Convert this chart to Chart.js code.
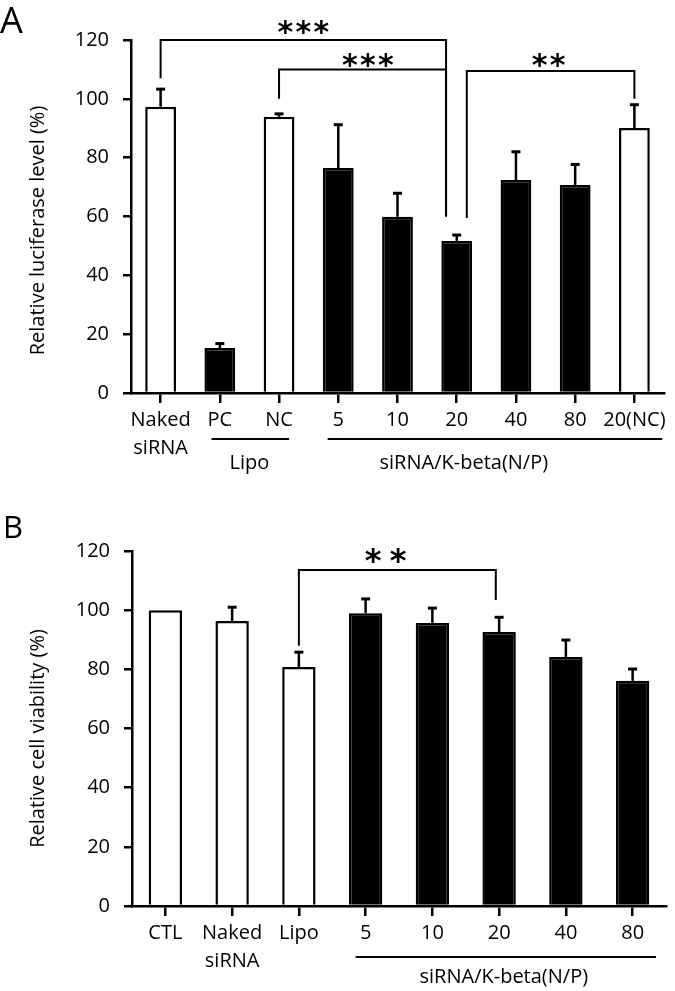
<!DOCTYPE html>
<html>
<head>
<meta charset="utf-8">
<script src="https://cdn.jsdelivr.net/npm/chart.js@4.4.1/dist/chart.umd.min.js"></script>
<style>
  body { margin: 0; background: #fff; }
  .panel { position: absolute; left: 0; width: 675px; }
</style>
</head>
<body>
<div class="panel" style="top:0;height:490px"><canvas id="chartA"></canvas></div>
<div class="panel" style="top:490px;height:501px"><canvas id="chartB"></canvas></div>
<script>
// panel A: luciferase knockdown
const labelsA = [['Naked', 'siRNA'], 'PC', 'NC', '5', '10', '20', '40', '80', '20(NC)'];
const valuesA = [97.3, 15.3, 93.9, 76.5, 59.9, 51.7, 72.4, 70.7, 90.1];
const errorsA = [6, 1.5, 1, 14.7, 8, 2, 9.6, 7, 7.9];
const filledA = [false, true, false, true, true, true, true, true, false];

// panel B: cell viability
const labelsB = ['CTL', ['Naked', 'siRNA'], 'Lipo', '5', '10', '20', '40', '80'];
const valuesB = [100, 96.3, 80.8, 99, 95.7, 92.6, 84.2, 76.1];
const errorsB = [0, 4.7, 5, 4.8, 5, 5, 5.7, 4];
const filledB = [false, false, false, true, true, true, true, true];

const yMin = 0, yMax = 120, yStep = 20;

// significance brackets (category index, value)
const bracketsA = [
  { from: 0, to: 4.82, top: 120, leftEnd: 107, rightEnd: 60, stars: 3, at: 2.41, textY: 125 },
  { from: 2, to: 4.82, top: 110, leftEnd: 100, rightEnd: 60, stars: 3, at: 3.5, textY: 114 },
  { from: 5.17, to: 8, top: 109.5, leftEnd: 59.5, rightEnd: 100, stars: 2, at: 6.55, textY: 114 }
];
const bracketsB = [
  { from: 2, to: 4.95, top: 113.6, leftEnd: 88, rightEnd: 103.4, stars: 2, at: 3.3, textY: 119.5 }
];

// group underlines below the axis
const groupsA = [
  { from: 0.86, to: 2.17, text: 'Lipo', at: 1.5 },
  { from: 2.82, to: 8.47, text: 'siRNA/K-beta(N/P)', at: 5.12 }
];
const groupsB = [
  { from: 2.85, to: 7.35, text: 'siRNA/K-beta(N/P)', at: 5.07 }
];

const FONT = '"Open Sans"';

function annotations(cfg) {
  return {
    id: 'annotations',
    afterDatasetsDraw(chart) {
      const { ctx, chartArea, scales: { x, y } } = chart;
      const step = x.getPixelForValue(1) - x.getPixelForValue(0);
      const px = i => x.getPixelForValue(0) + i * step;
      const meta = chart.getDatasetMeta(0);
      ctx.save();
      ctx.strokeStyle = '#000';
      ctx.fillStyle = '#000';

      // error bars (upper only)
      cfg.errors.forEach((e, i) => {
        if (!e) return;
        const bar = meta.data[i];
        const top = y.getPixelForValue(cfg.values[i] + e);
        ctx.lineWidth = 2.5;
        ctx.beginPath();
        ctx.moveTo(bar.x, bar.y);
        ctx.lineTo(bar.x, top);
        ctx.stroke();
        ctx.lineWidth = 3;
        ctx.beginPath();
        ctx.moveTo(bar.x - 4.5, top);
        ctx.lineTo(bar.x + 4.5, top);
        ctx.stroke();
      });

      // brackets + stars
      cfg.brackets.forEach(b => {
        const x1 = px(b.from), x2 = px(b.to), yt = y.getPixelForValue(b.top);
        ctx.lineWidth = 2;
        ctx.beginPath();
        ctx.moveTo(x1, y.getPixelForValue(b.leftEnd));
        ctx.lineTo(x1, yt);
        ctx.lineTo(x2, yt);
        ctx.lineTo(x2, y.getPixelForValue(b.rightEnd));
        ctx.stroke();
        const size = cfg.starSize;
        ctx.font = 'bold ' + size + 'px "DejaVu Sans"';
        ctx.textAlign = 'center';
        ctx.textBaseline = 'alphabetic';
        const cy = y.getPixelForValue(b.textY) + size * 0.57;
        const cx = px(b.at);
        for (let k = 0; k < b.stars; k++) {
          ctx.fillText('*', cx + (k - (b.stars - 1) / 2) * cfg.starGap, cy);
        }
      });

      // group underlines and labels
      cfg.groups.forEach(g => {
        const ly = chartArea.bottom + cfg.groupLine;
        ctx.lineWidth = 2;
        ctx.beginPath();
        ctx.moveTo(px(g.from), ly);
        ctx.lineTo(px(g.to), ly);
        ctx.stroke();
        ctx.font = '20px ' + FONT;
        ctx.textAlign = 'center';
        ctx.textBaseline = 'middle';
        ctx.fillText(g.text, px(g.at), chartArea.bottom + cfg.groupText);
      });

      // y-axis title
      ctx.save();
      ctx.translate(cfg.titleX, (chartArea.top + chartArea.bottom) / 2 + cfg.titleShift);
      ctx.rotate(-Math.PI / 2);
      ctx.font = '20px ' + FONT;
      ctx.textAlign = 'center';
      ctx.textBaseline = 'middle';
      ctx.fillText(cfg.title, 0, 0);
      ctx.restore();

      // panel letter
      ctx.font = cfg.letterSize + 'px ' + FONT;
      ctx.textAlign = 'left';
      ctx.textBaseline = 'alphabetic';
      ctx.fillText(cfg.letter, cfg.letterX, cfg.letterY);
      ctx.restore();
    }
  };
}

function makeChart(id, labels, values, filled, o) {
  return new Chart(document.getElementById(id), {
    type: 'bar',
    data: {
      labels: labels,
      datasets: [{
        data: values,
        backgroundColor: filled.map(f => f ? '#000' : '#fff'),
        borderColor: '#000',
        borderWidth: 2.5,
        barPercentage: o.barPct,
        categoryPercentage: 1
      }]
    },
    options: {
      responsive: true,
      maintainAspectRatio: false,
      animation: false,
      layout: { padding: o.padding },
      plugins: { legend: { display: false }, tooltip: { enabled: false } },
      scales: {
        x: {
          grid: { offset: false, drawOnChartArea: false, color: '#000', lineWidth: 2.5, tickLength: 10 },
          border: { color: '#000', width: 2.5 },
          ticks: { color: '#000', font: { family: FONT, size: 20, lineHeight: 1.4 }, padding: 3, maxRotation: 0, autoSkip: false },
          afterFit: s => { s.height = o.xHeight; }
        },
        y: {
          min: yMin, max: yMax,
          ticks: { stepSize: yStep, color: '#000', font: { family: FONT, size: 20 }, padding: 14 },
          grid: { drawOnChartArea: false, color: '#000', lineWidth: 2.5, tickLength: 8 },
          border: { color: '#000', width: 2.5 },
          afterFit: s => { s.width = o.yWidth; }
        }
      }
    },
    plugins: [annotations(o.notes)]
  });
}

makeChart('chartA', labelsA, valuesA, filledA, {
  barPct: 0.52,
  padding: { top: 40, right: 11, left: 0, bottom: 0 },
  xHeight: 97, yWidth: 131,
  notes: {
    values: valuesA, errors: errorsA, brackets: bracketsA, groups: groupsA,
    starSize: 30, starGap: 18, groupLine: 46, groupText: 70,
    title: 'Relative luciferase level (%)', titleX: 38, titleShift: 14,
    letter: 'A', letterSize: 36, letterX: 0, letterY: 33
  }
});

makeChart('chartB', labelsB, valuesB, filledB, {
  barPct: 0.5,
  padding: { top: 61, right: 9, left: 0, bottom: 0 },
  xHeight: 85, yWidth: 132,
  notes: {
    values: valuesB, errors: errorsB, brackets: bracketsB, groups: groupsB,
    starSize: 32, starGap: 25, groupLine: 51, groupText: 71,
    title: 'Relative cell viability (%)', titleX: 38, titleShift: 10,
    letter: 'B', letterSize: 31, letterX: 3, letterY: 48
  }
});
</script>
</body>
</html>
